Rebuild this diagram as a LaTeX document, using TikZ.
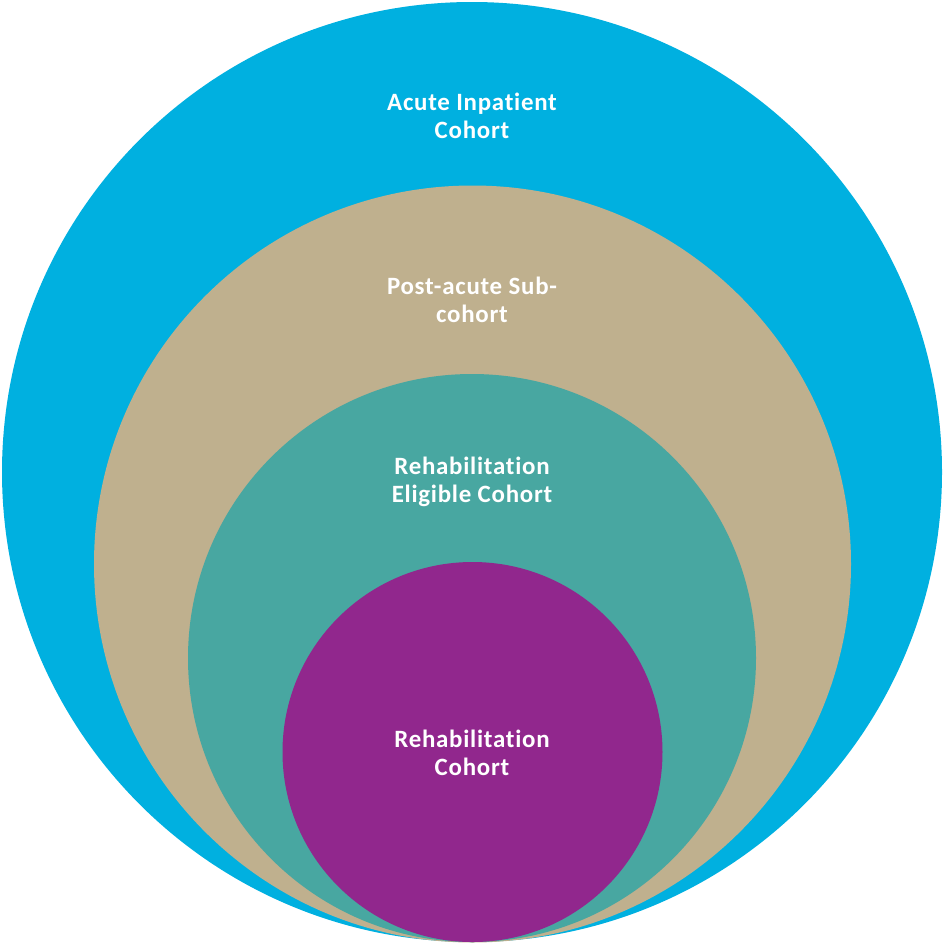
\documentclass[tikz,border=0pt]{standalone}
\usepackage{fontspec}
\setmainfont{Carlito}[LetterSpace=3,Ligatures={NoCommon,NoDiscretionary}]
\definecolor{cblue}{RGB}{0,176,224}
\definecolor{ctan}{RGB}{191,176,142}
\definecolor{cteal}{RGB}{72,167,161}
\definecolor{cpurple}{RGB}{145,39,141}
\begin{document}
\begin{tikzpicture}[x=1bp,y=-1bp,
  lbl/.style={text=white,align=center,font=\fontsize{25}{28.5}\selectfont\bfseries,inner sep=0pt}]
\useasboundingbox (0,0) rectangle (943,943);
\fill[cblue] (472,472) circle[radius=470];
\fill[ctan] (472.5,564) circle[radius=378.5];
\fill[cteal] (472,658) circle[radius=284];
\fill[cpurple] (472.5,752) circle[radius=190];
\node[lbl] (a) at (472,116) {Acute Inpatient\\Cohort};
\node[lbl] (b) at (472,300) {Post-acute Sub-\\cohort};
\node[lbl] (c) at (472,482) {Rehabilitation\\Eligible Cohort};
\node[lbl] (d) at (472,753) {Rehabilitation\\Cohort};
\end{tikzpicture}
\end{document}
